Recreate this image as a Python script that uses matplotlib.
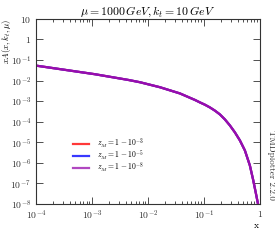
import matplotlib
matplotlib.use("Agg")
import matplotlib.pyplot as plt
import numpy as np

plt.rcParams['mathtext.fontset'] = 'cm'
plt.rcParams['font.family'] = ['DejaVu Serif']

log_x = [-4.0, -2.946, -2.352, -2.143, -1.786, -1.429, -1.161, -1.071, -0.982, -0.893,
         -0.804, -0.714, -0.625, -0.536, -0.446, -0.357, -0.268, -0.179, -0.120, -0.071, -0.030]
log_y = [-1.271, -1.690, -1.967, -2.079, -2.322, -2.624, -2.940, -3.061, -3.173, -3.305,
         -3.460, -3.645, -3.888, -4.180, -4.520, -4.910, -5.396, -6.126, -6.831, -7.487, -8.047]
x_vals = [10 ** v for v in log_x]
y_vals = [10 ** v for v in log_y]
labels = [r'$z_M = 1-10^{-3}$', r'$z_M = 1-10^{-5}$', r'$z_M = 1-10^{-8}$']
colors = ['#ff3838', '#3838ff', '#9a0cac']
legend_colors = ['#ff3838', '#3838ff', '#b048c0']

fig = plt.figure(figsize=(2.75, 2.46), dpi=100)
ax = fig.add_axes([0.131, 0.171, 0.814, 0.752])
for lab, c in zip(labels, colors):
    ax.plot(x_vals, y_vals, color=c, lw=1.6, label=lab)
ax.set_xscale('log')
ax.set_yscale('log')
ax.set_xlim(1e-4, 1)
ax.set_ylim(1e-8, 10)
ax.set_xticks([1e-4, 1e-3, 1e-2, 1e-1, 1])
ax.set_xticklabels([r'$10^{-4}$', r'$10^{-3}$', r'$10^{-2}$', r'$10^{-1}$', r'$1$'])
yt = [1e-8, 1e-7, 1e-6, 1e-5, 1e-4, 1e-3, 1e-2, 1e-1, 1, 10]
ax.set_yticks(yt)
ax.set_yticklabels([r'$10^{-8}$', r'$10^{-7}$', r'$10^{-6}$', r'$10^{-5}$', r'$10^{-4}$',
                    r'$10^{-3}$', r'$10^{-2}$', r'$10^{-1}$', r'$1$', r'$10$'])
ax.tick_params(which='both', direction='in', top=True, right=True, labelsize=7,
               colors='#333333', width=0.6)
ax.tick_params(which='major', length=5)
ax.tick_params(which='minor', length=2.5)
for s in ax.spines.values():
    s.set_color('#333333')
    s.set_linewidth(0.8)
ax.set_title(r'$\mu = 1000\,GeV, k_t = 10\,GeV$', fontsize=8.5, pad=3)
ax.set_ylabel(r'$xA(x,k_t,\mu)$', fontsize=6.3, loc='top')
ax.yaxis.set_label_coords(-0.104, 1.0)
ax.set_xlabel('x', fontsize=7, family='cmr10')
ax.xaxis.set_label_coords(0.985, -0.095)
leg = ax.legend(loc='center left', bbox_to_anchor=(0.165, 0.261), fontsize=5.5, frameon=False,
                handlelength=2.1, labelspacing=-0.2, handletextpad=1.1,
                borderpad=0, borderaxespad=0)
for h, c in zip(leg.legend_handles, legend_colors):
    h.set_color(c)
fig.text(0.988, 0.33, 'TMDplotter 2.2.0', rotation=270, fontsize=6.5, family='cmr10',
         va='center', ha='center', color='#333333')
fig.savefig('out.png', dpi=100)
